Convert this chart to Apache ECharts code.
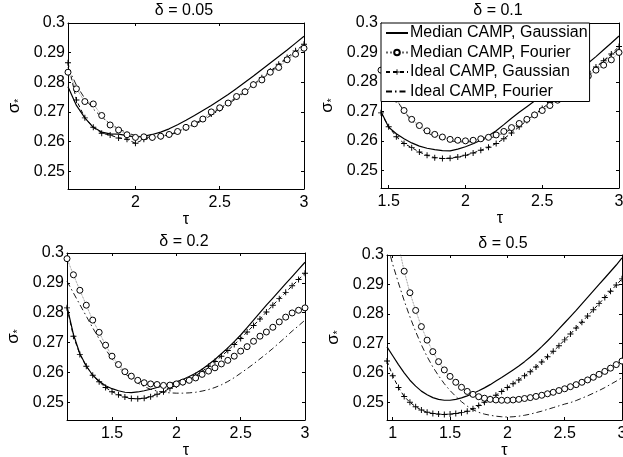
<!DOCTYPE html>
<html><head><meta charset="utf-8">
<script src="https://cdn.jsdelivr.net/npm/echarts@6/dist/echarts.min.js"></script>
<style>html,body{margin:0;padding:0;background:#fff}#c{width:623px;height:457px}</style>
</head><body><div id="c"></div><script>
const seriesNames = ['Median CAMP, Gaussian', 'Median CAMP, Fourier', 'Ideal CAMP, Gaussian', 'Ideal CAMP, Fourier'];
const panelTitles = ['δ = 0.05', 'δ = 0.1', 'δ = 0.2', 'δ = 0.5'];
const yTicks = [0.25, 0.26, 0.27, 0.28, 0.29, 0.3];
const xTicks1 = [2, 2.5, 3];
const xTicks2 = [1.5, 2, 2.5, 3];
const xTicks3 = [1.5, 2, 2.5, 3];
const xTicks4 = [1, 1.5, 2, 2.5, 3];

// Panel 1: delta = 0.05
const tau1 = [1.6,1.65,1.7,1.75,1.8,1.85,1.9,1.95,2,2.05,2.1,2.15,2.2,2.25,2.3,2.35,2.4,2.45,2.5,2.55,2.6,2.65,2.7,2.75,2.8,2.85,2.9,2.95,3];
const p1MedGauss = [0.2785,0.2722,0.2680,0.2648,0.2632,0.2626,0.2625,0.2620,0.2615,0.2618,0.2624,0.2632,0.2643,0.2657,0.2672,0.2688,0.2705,0.2722,0.2740,0.2759,0.2779,0.2800,0.2821,0.2843,0.2865,0.2887,0.2909,0.2932,0.2955];
const p1MedFour = [0.2834,0.2778,0.2735,0.2727,0.2688,0.2656,0.2639,0.2623,0.2614,0.2616,0.2614,0.2618,0.2624,0.2634,0.2648,0.2660,0.2676,0.2700,0.2714,0.2730,0.2752,0.2768,0.2792,0.2808,0.2834,0.2850,0.2876,0.2895,0.2915];
const p1IdealGauss = [0.2866,0.2740,0.2680,0.2648,0.2628,0.2622,0.2612,0.2608,0.2594,0.2608,0.2612,0.2617,0.2623,0.2633,0.2646,0.2660,0.2676,0.2693,0.2711,0.2730,0.2750,0.2771,0.2793,0.2815,0.2838,0.2861,0.2884,0.2906,0.2928];
const p1IdealFour = [0.2850,0.2790,0.2745,0.2710,0.2682,0.2660,0.2643,0.2630,0.2620,0.2615,0.2614,0.2617,0.2622,0.2631,0.2643,0.2657,0.2672,0.2689,0.2707,0.2726,0.2746,0.2767,0.2789,0.2811,0.2834,0.2857,0.2880,0.2902,0.2925];

// Panel 2: delta = 0.1
const tau2 = [1.45,1.5,1.55,1.6,1.65,1.7,1.75,1.8,1.85,1.9,1.95,2,2.05,2.1,2.15,2.2,2.25,2.3,2.35,2.4,2.45,2.5,2.55,2.6,2.65,2.7,2.75,2.8,2.85,2.9,2.95,3];
const p2MedGauss = [0.2700,0.2646,0.2624,0.2607,0.2593,0.2582,0.2575,0.2570,0.2567,0.2566,0.2572,0.2580,0.2590,0.2602,0.2617,0.2634,0.2655,0.2677,0.2697,0.2716,0.2735,0.2754,0.2773,0.2792,0.2810,0.2828,0.2846,0.2864,0.2886,0.2909,0.2932,0.2956];
const p2MedFour = [0.2840,0.2785,0.2742,0.2703,0.2673,0.2652,0.2634,0.2622,0.2613,0.2605,0.2602,0.2600,0.2602,0.2607,0.2612,0.2620,0.2632,0.2645,0.2659,0.2673,0.2688,0.2703,0.2720,0.2738,0.2757,0.2777,0.2798,0.2820,0.2840,0.2857,0.2875,0.2900];
const p2IdealGauss = [0.2695,0.2648,0.2614,0.2591,0.2577,0.2562,0.2551,0.2543,0.2540,0.2541,0.2545,0.2551,0.2559,0.2568,0.2578,0.2591,0.2607,0.2627,0.2648,0.2669,0.2689,0.2710,0.2730,0.2750,0.2770,0.2790,0.2810,0.2830,0.2851,0.2872,0.2895,0.2920];
const p2IdealFour = [0.2850,0.2790,0.2740,0.2700,0.2668,0.2645,0.2628,0.2615,0.2606,0.2600,0.2597,0.2596,0.2598,0.2602,0.2608,0.2616,0.2627,0.2640,0.2655,0.2671,0.2688,0.2706,0.2725,0.2745,0.2766,0.2787,0.2808,0.2829,0.2850,0.2871,0.2891,0.2912];

// Panel 3: delta = 0.2
const tau3 = [1.15,1.2,1.25,1.3,1.35,1.4,1.45,1.5,1.55,1.6,1.65,1.7,1.75,1.8,1.85,1.9,1.95,2,2.05,2.1,2.15,2.2,2.25,2.3,2.35,2.4,2.45,2.5,2.55,2.6,2.65,2.7,2.75,2.8,2.85,2.9,2.95,3];
const p3MedGauss = [0.2821,0.2727,0.2662,0.2621,0.2590,0.2570,0.2555,0.2545,0.2538,0.2533,0.2532,0.2534,0.2538,0.2543,0.2549,0.2555,0.2561,0.2568,0.2576,0.2586,0.2597,0.2610,0.2626,0.2643,0.2662,0.2682,0.2703,0.2725,0.2750,0.2775,0.2800,0.2825,0.2849,0.2873,0.2897,0.2921,0.2945,0.2969];
const p3MedFour = [0.2981,0.2927,0.2875,0.2825,0.2775,0.2734,0.2691,0.2654,0.2626,0.2602,0.2587,0.2573,0.2565,0.2561,0.2559,0.2556,0.2557,0.2561,0.2567,0.2573,0.2581,0.2593,0.2604,0.2615,0.2628,0.2640,0.2654,0.2671,0.2686,0.2704,0.2721,0.2735,0.2751,0.2769,0.2785,0.2799,0.2808,0.2816];
const p3IdealGauss = [0.2816,0.2721,0.2660,0.2620,0.2590,0.2568,0.2549,0.2535,0.2525,0.2517,0.2512,0.2511,0.2513,0.2518,0.2526,0.2535,0.2546,0.2557,0.2566,0.2576,0.2589,0.2603,0.2619,0.2636,0.2654,0.2673,0.2693,0.2713,0.2735,0.2757,0.2779,0.2802,0.2825,0.2847,0.2868,0.2890,0.2911,0.2932];
const p3IdealFour = [0.2905,0.2866,0.2827,0.2788,0.2749,0.2712,0.2677,0.2645,0.2618,0.2596,0.2578,0.2564,0.2552,0.2543,0.2537,0.2533,0.2531,0.2530,0.2530,0.2531,0.2533,0.2537,0.2542,0.2549,0.2558,0.2569,0.2582,0.2597,0.2612,0.2628,0.2645,0.2662,0.2680,0.2699,0.2718,0.2738,0.2756,0.2775];

// Panel 4: delta = 0.5
const tau4 = [0.95,1,1.05,1.1,1.15,1.2,1.25,1.3,1.35,1.4,1.45,1.5,1.55,1.6,1.65,1.7,1.75,1.8,1.85,1.9,1.95,2,2.05,2.1,2.15,2.2,2.25,2.3,2.35,2.4,2.45,2.5,2.55,2.6,2.65,2.7,2.75,2.8,2.85,2.9,2.95,3];
const p4MedGauss = [0.2688,0.2658,0.2628,0.2600,0.2575,0.2555,0.2538,0.2526,0.2516,0.2510,0.2507,0.2507,0.2510,0.2515,0.2522,0.2530,0.2539,0.2549,0.2560,0.2572,0.2584,0.2597,0.2610,0.2623,0.2638,0.2654,0.2671,0.2689,0.2708,0.2728,0.2749,0.2770,0.2791,0.2812,0.2834,0.2856,0.2878,0.2900,0.2922,0.2944,0.2966,0.2990];
const p4MedFour = [0.3210,0.3120,0.3035,0.2945,0.2872,0.2812,0.2757,0.2711,0.2672,0.2638,0.2610,0.2588,0.2568,0.2551,0.2537,0.2527,0.2519,0.2514,0.2510,0.2508,0.2507,0.2507,0.2508,0.2510,0.2513,0.2516,0.2520,0.2524,0.2529,0.2534,0.2540,0.2546,0.2553,0.2560,0.2568,0.2576,0.2585,0.2595,0.2605,0.2616,0.2628,0.2640];
const p4IdealGauss = [0.2640,0.2590,0.2550,0.2520,0.2500,0.2485,0.2474,0.2466,0.2462,0.2460,0.2459,0.2460,0.2462,0.2465,0.2470,0.2478,0.2489,0.2500,0.2512,0.2524,0.2537,0.2550,0.2563,0.2576,0.2590,0.2604,0.2620,0.2637,0.2655,0.2673,0.2692,0.2712,0.2732,0.2752,0.2772,0.2793,0.2814,0.2835,0.2856,0.2877,0.2898,0.2919];
const p4IdealFour = [0.3040,0.2968,0.2905,0.2845,0.2790,0.2740,0.2695,0.2655,0.2620,0.2590,0.2563,0.2540,0.2520,0.2502,0.2487,0.2475,0.2466,0.2460,0.2456,0.2453,0.2451,0.2450,0.2451,0.2453,0.2456,0.2460,0.2465,0.2470,0.2476,0.2482,0.2488,0.2494,0.2499,0.2506,0.2514,0.2522,0.2531,0.2540,0.2550,0.2561,0.2572,0.2584];

const panels = [
  { tau: tau1, xTicks: xTicks1, xMin: 1.6, vals: [p1MedGauss, p1MedFour, p1IdealGauss, p1IdealFour] },
  { tau: tau2, xTicks: xTicks2, xMin: 1.45, vals: [p2MedGauss, p2MedFour, p2IdealGauss, p2IdealFour] },
  { tau: tau3, xTicks: xTicks3, xMin: 1.15, vals: [p3MedGauss, p3MedFour, p3IdealGauss, p3IdealFour] },
  { tau: tau4, xTicks: xTicks4, xMin: 0.95, vals: [p4MedGauss, p4MedFour, p4IdealGauss, p4IdealFour] }
];

// layout (px)
const grids = [
  { left: 68, top: 23, width: 236, height: 166 },
  { left: 381, top: 23, width: 238, height: 165 },
  { left: 67, top: 253, width: 238, height: 167 },
  { left: 387, top: 255, width: 235, height: 165 }
];
const titlePos = [[184, 3], [498, 3], [184, 234], [503, 236]];

const FONT = 'Liberation Sans, Arial, Helvetica, sans-serif';
const fmt = v => String(Math.round(v * 100) / 100);
const plusPath = 'path://M0,4.2 L10,4.2 L10,5.8 L0,5.8 Z M4.2,0 L5.8,0 L5.8,10 L4.2,10 Z';

const seriesStyles = [
  { symbol: 'none', itemStyle: { color: '#000', opacity: 0 }, lineStyle: { color: '#000', width: 1.2, type: 'solid', opacity: 1 } },
  { symbol: 'circle', symbolSize: 6, itemStyle: { color: '#fff', borderColor: '#000', borderWidth: 1 }, lineStyle: { color: '#666', width: 0.8, type: 'dotted' } },
  { symbol: plusPath, symbolSize: 6, itemStyle: { color: '#000' }, lineStyle: { color: '#000', width: 1, type: [4, 3] } },
  { symbol: 'none', itemStyle: { color: '#000', opacity: 0 }, lineStyle: { color: '#000', width: 0.9, type: [6, 3, 1.5, 3], opacity: 1 } }
];

const axisCommon = {
  axisLine: { show: true, lineStyle: { color: '#000', width: 1 } },
  splitLine: { show: false }
};

const xAxes = [], yAxes = [], series = [];
panels.forEach((p, i) => {
  xAxes.push(Object.assign({}, axisCommon, {
    type: 'value', gridIndex: i, position: 'bottom', min: p.xMin, max: 3,
    axisTick: { inside: true, length: 3, customValues: p.xTicks, lineStyle: { color: '#000' } },
    axisLabel: { customValues: p.xTicks, formatter: fmt, color: '#000', fontSize: 16, fontFamily: FONT, margin: 6, hideOverlap: false },
    name: 'τ', nameLocation: 'middle', nameGap: 18,
    nameTextStyle: { color: '#000', fontSize: 16, fontFamily: FONT }
  }));
  xAxes.push(Object.assign({}, axisCommon, {
    type: 'value', gridIndex: i, position: 'top', min: p.xMin, max: 3,
    axisTick: { inside: true, length: 3, customValues: p.xTicks, lineStyle: { color: '#000' } },
    axisLabel: { show: false }
  }));
  yAxes.push(Object.assign({}, axisCommon, {
    type: 'value', gridIndex: i, position: 'left', min: 0.244, max: 0.3,
    axisTick: { inside: true, length: 3, customValues: yTicks, lineStyle: { color: '#000' } },
    axisLabel: { customValues: yTicks, formatter: fmt, color: '#000', fontSize: 16, fontFamily: FONT, margin: 3 },
    name: '{a|σ}{b|*}', nameLocation: 'middle', nameRotate: 90, nameGap: 44,
    nameTextStyle: { color: '#000', fontFamily: FONT, rich: {
      a: { fontSize: 17, fontFamily: FONT, color: '#000' },
      b: { fontSize: 10, fontFamily: FONT, color: '#000', padding: [9, 0, 0, 0] }
    } }
  }));
  yAxes.push(Object.assign({}, axisCommon, {
    type: 'value', gridIndex: i, position: 'right', min: 0.244, max: 0.3,
    axisTick: { inside: true, length: 3, customValues: yTicks, lineStyle: { color: '#000' } },
    axisLabel: { show: false }
  }));
  p.vals.forEach((arr, k) => {
    series.push(Object.assign({
      type: 'line', name: seriesNames[k], xAxisIndex: i * 2, yAxisIndex: i * 2,
      data: p.tau.map((t, j) => [t, arr[j]]),
      showAllSymbol: true, clip: true, silent: true, animation: false,
      emphasis: { disabled: true }, z: 2 + (k === 1 ? 1 : 0)
    }, JSON.parse(JSON.stringify(seriesStyles[k]))));
  });
});

const chart = echarts.init(document.getElementById('c'), null, { renderer: 'canvas' });
chart.setOption({
  animation: false,
  backgroundColor: '#fff',
  textStyle: { fontFamily: FONT },
  title: panelTitles.map((t, i) => ({
    text: t, left: titlePos[i][0], top: titlePos[i][1], textAlign: 'center', padding: 0,
    textStyle: { fontSize: 16, fontWeight: 'normal', color: '#000', fontFamily: FONT }
  })),
  grid: grids.map(g => Object.assign({ containLabel: false, outerBoundsMode: 'none' }, g)),
  xAxis: xAxes,
  yAxis: yAxes,
  legend: {
    data: seriesNames, orient: 'vertical', left: 381, top: 23,
    itemWidth: 22, itemHeight: 7, itemGap: 3.5,
    padding: [2, 2, 2, 4],
    backgroundColor: '#fff', borderColor: '#000', borderWidth: 1, borderRadius: 0,
    selectedMode: false,
    textStyle: { fontSize: 16, lineHeight: 16, color: '#000', fontFamily: FONT, padding: [0, 0, 0, -3] }
  },
  series: series
});
</script></body></html>
